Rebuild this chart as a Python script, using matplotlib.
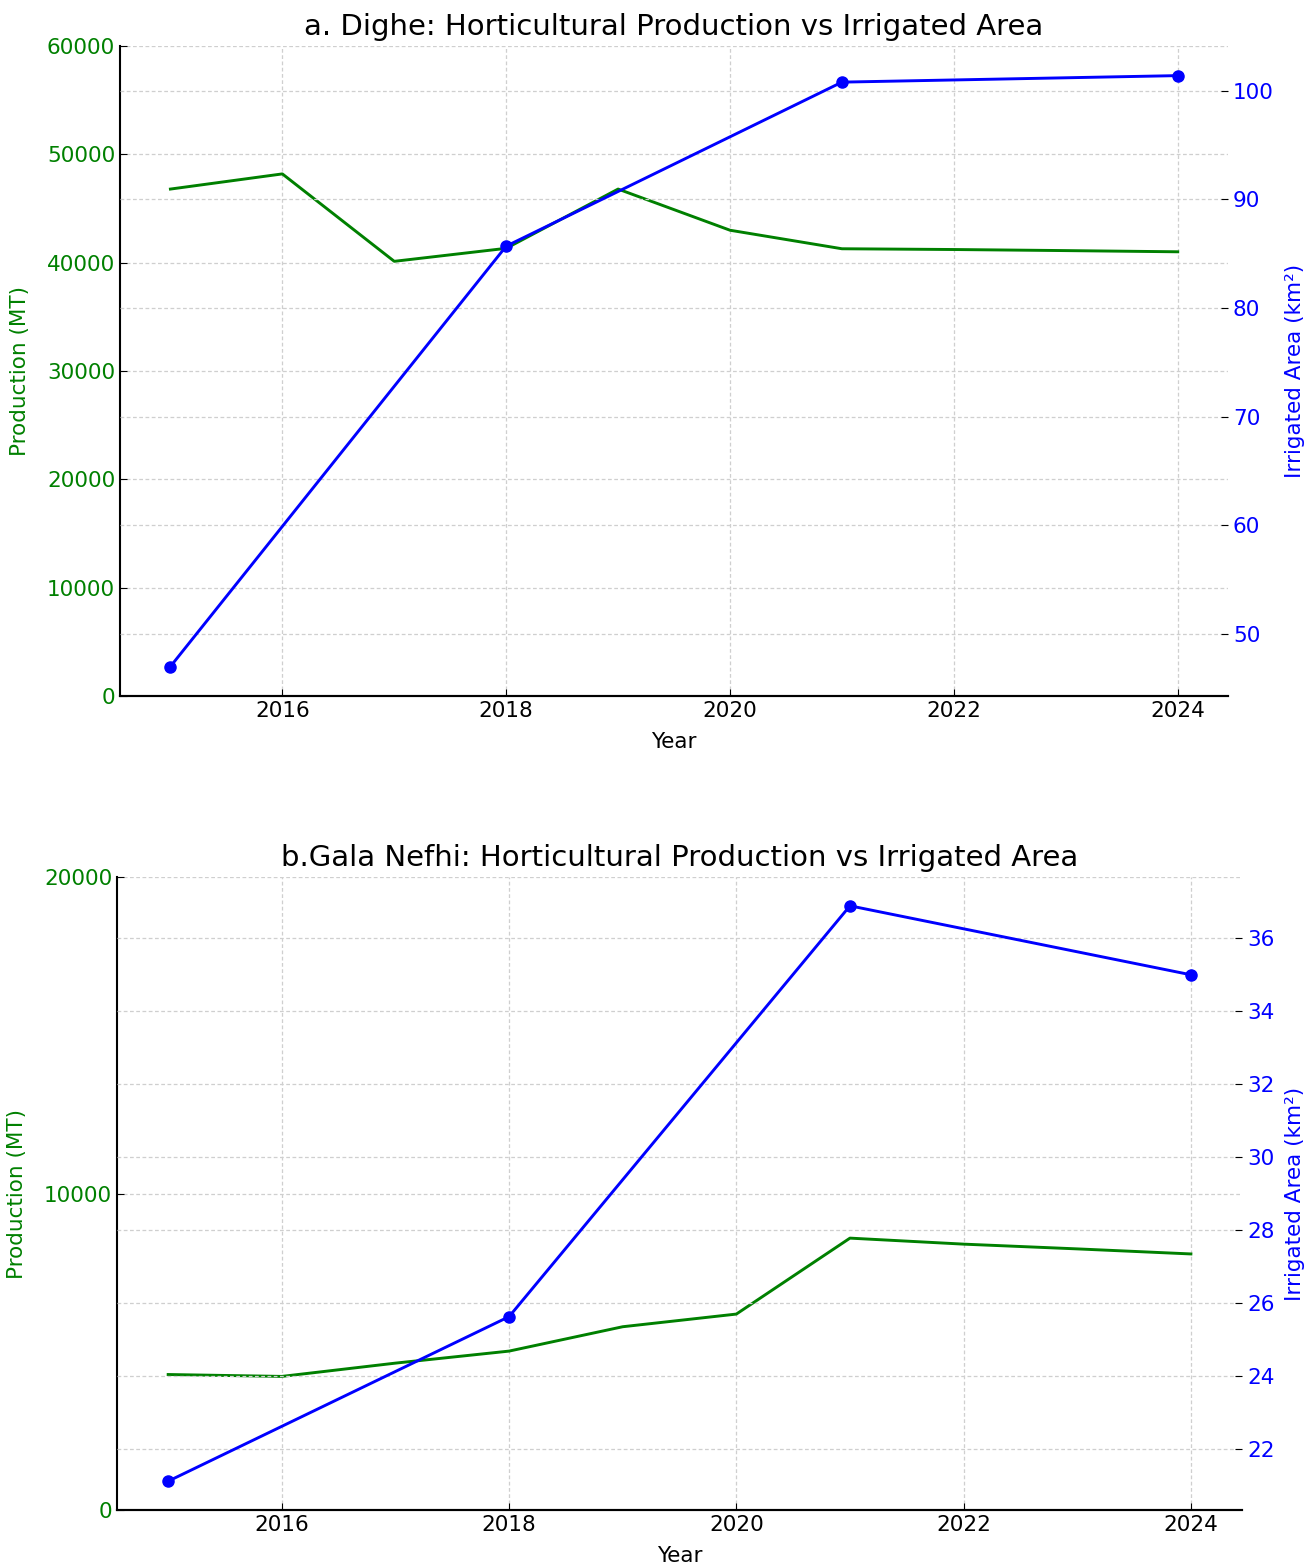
import matplotlib
matplotlib.use("Agg")
import matplotlib.pyplot as plt

# Annual horticultural production (MT) and irrigated area (km²)
years = [2015, 2016, 2017, 2018, 2019, 2020, 2021, 2022, 2023, 2024]
area_years = [2015, 2018, 2021, 2024]

dighe_production = [46800, 48200, 40130, 41330, 46800, 43000, 41290, 41220, 41120, 41010]
dighe_area = [47.0, 85.7, 100.8, 101.4]

gala_production = [4280, 4220, 4640, 5020, 5790, 6190, 8590, 8400, 8250, 8090]
gala_area = [21.12, 25.63, 36.89, 35.0]

dighe_title = "a. Dighe: Horticultural Production vs Irrigated Area"
gala_title = "b.Gala Nefhi: Horticultural Production vs Irrigated Area"

GRID = dict(color="#cfcfcf", linestyle=(0, (3, 2)), linewidth=0.9)
FS = 15.5


def draw_panel(rect, production, area, title, prod_ylim, prod_ticks, area_ticks):
    ax = fig.add_axes(rect)
    ax.plot(years, production, color="green", linewidth=2.1)
    ax.set_ylim(*prod_ylim)
    ax.set_yticks(prod_ticks)
    ax.set_xticks([2016, 2018, 2020, 2022, 2024])
    ax.set_xlabel("Year", fontsize=FS, labelpad=8)
    ax.set_ylabel("Production (MT)", color="green", fontsize=FS, labelpad=12)
    ax.tick_params(axis="y", labelcolor="green", labelsize=FS, direction="in", length=5)
    ax.tick_params(axis="x", labelsize=FS, direction="in", length=5)
    ax.grid(True, **GRID)
    ax.set_title(title, fontsize=21, pad=8)

    ax2 = ax.twinx()
    ax2.plot(area_years, area, color="blue", linewidth=2.1, marker="o", markersize=8)
    ax2.set_yticks(area_ticks)
    ax2.set_ylabel("Irrigated Area (km²)", color="blue", fontsize=FS, labelpad=8)
    ax2.tick_params(axis="y", labelcolor="blue", labelsize=FS, direction="in", length=5)
    ax2.grid(True, axis="y", **GRID)

    for a in (ax, ax2):
        a.spines["top"].set_visible(False)
        a.spines["right"].set_visible(False)
        a.spines["left"].set_linewidth(1.5)
        a.spines["bottom"].set_linewidth(1.5)
    ax2.spines["left"].set_visible(False)
    return ax, ax2


fig = plt.figure(figsize=(13.15, 15.67), dpi=100)

draw_panel([0.0913, 0.5558, 0.8426, 0.4148], dighe_production, dighe_area, dighe_title,
           (0, 60000), [0, 10000, 20000, 30000, 40000, 50000, 60000],
           [50, 60, 70, 80, 90, 100])

draw_panel([0.0890, 0.0364, 0.8555, 0.4039], gala_production, gala_area, gala_title,
           (0, 20000), [0, 10000, 20000],
           [22, 24, 26, 28, 30, 32, 34, 36])

fig.savefig("out.png", dpi=100)
